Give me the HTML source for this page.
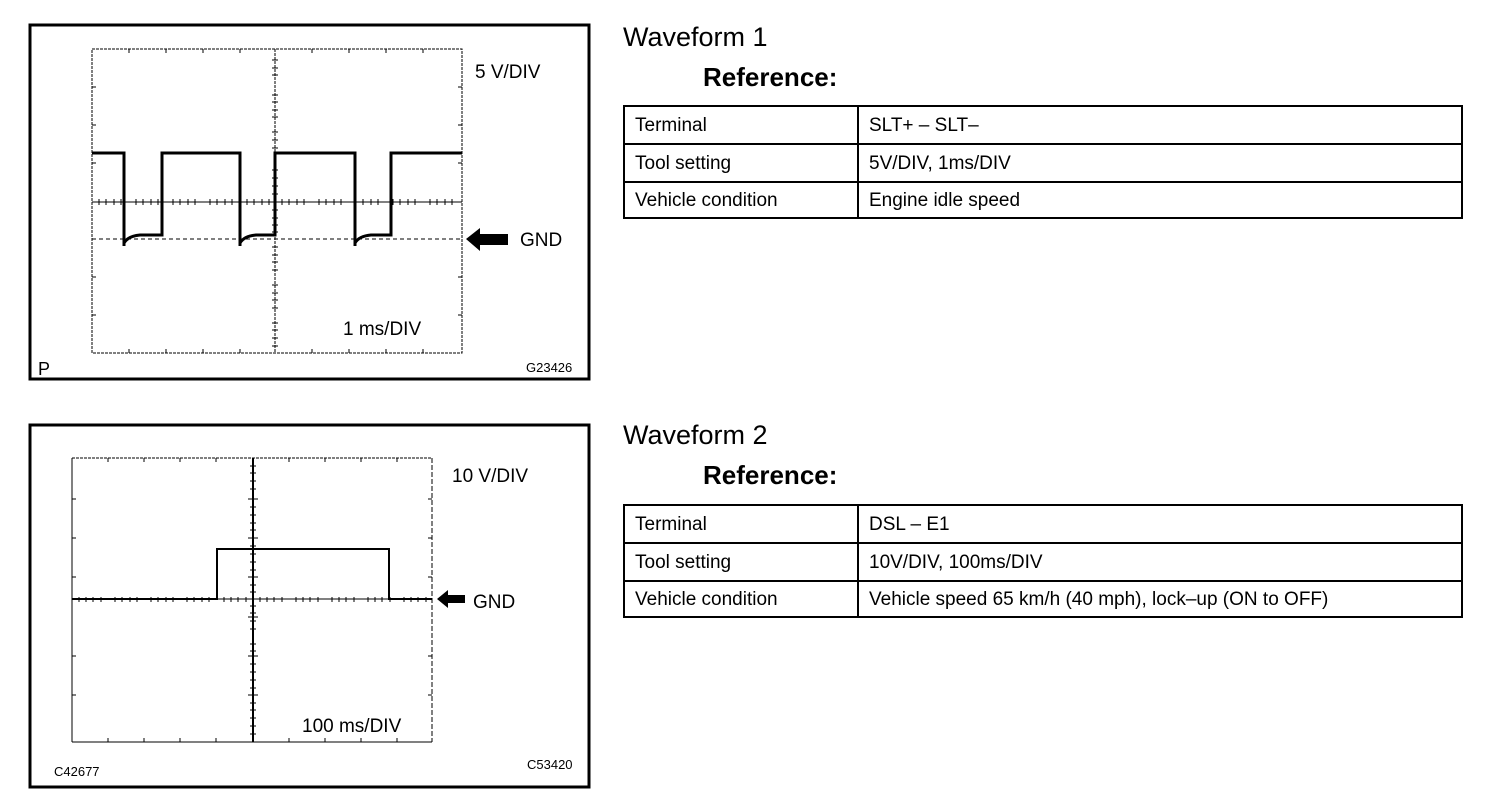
<!DOCTYPE html>
<html><head><meta charset="utf-8"><style>
html,body{margin:0;padding:0;background:#fff;}
body{width:1504px;height:808px;overflow:hidden;position:relative;font-family:"Liberation Sans",Arial,sans-serif;color:#000;}
.t{position:absolute;white-space:nowrap;}
table{position:absolute;border-collapse:collapse;font-size:19px;}
td{border:2px solid #000;height:35px;padding:2px 0 0 10px;vertical-align:middle;box-sizing:border-box;}
</style></head><body>
<svg width="1504" height="808" style="position:absolute;left:0;top:0" font-family="Liberation Sans, Arial, sans-serif">
<!-- Panel 1 -->
<rect x="30" y="25" width="559" height="354" fill="none" stroke="#000" stroke-width="3"/>
<g stroke="#000" stroke-width="1" fill="none">
<rect x="92" y="49" width="370" height="304" stroke-dasharray="3,1"/>
<line x1="275" y1="49" x2="275" y2="353" stroke-dasharray="3,1"/>
<line x1="92" y1="202" x2="462" y2="202"/>
<line x1="92" y1="239" x2="462" y2="239" stroke-dasharray="4,3"/>
</g>
<g stroke="#000" stroke-width="1">
<path d="M129 49v4M166 49v4M203 49v4M240 49v4M312 49v4M349 49v4M386 49v4M423 49v4M129 353v-4M166 353v-4M203 353v-4M240 353v-4M312 353v-4M349 353v-4M386 353v-4M423 353v-4"/>
<path d="M92 87h4M92 125h4M92 163h4M92 277h4M92 315h4M462 87h-4M462 125h-4M462 163h-4M462 277h-4M462 315h-4"/>
<path d="M99 199v6M106 199v6M114 199v6M121 199v6M136 199v6M143 199v6M151 199v6M158 199v6M173 199v6M180 199v6M188 199v6M195 199v6M210 199v6M217 199v6M225 199v6M232 199v6M247 199v6M254 199v6M262 199v6M269 199v6M282 199v6M289 199v6M297 199v6M304 199v6M319 199v6M326 199v6M334 199v6M341 199v6M356 199v6M363 199v6M371 199v6M378 199v6M393 199v6M400 199v6M408 199v6M415 199v6M430 199v6M437 199v6M445 199v6M452 199v6"/>
<path d="M272 60h6M272 68h6M272 75h6M272 95h6M272 102h6M272 110h6M272 117h6M272 132h6M272 140h6M272 148h6M272 170h6M272 178h6M272 186h6M272 194h6M272 210h6M272 218h6M272 225h6M272 232h6M272 247h6M272 255h6M272 262h6M272 270h6M272 285h6M272 293h6M272 300h6M272 308h6M272 323h6M272 330h6M272 338h6M272 346h6"/>
</g>
<g stroke="#000" stroke-width="3" fill="none">
<path d="M92 153H124V246"/>
<path d="M124 243Q128 236 140 235H162V153H240V246"/>
<path d="M240 243Q244 236 256 235H275V153H355V246"/>
<path d="M355 243Q359 236 371 235H391V153H462"/>
</g>
<polygon points="466,239 480,228 480,234 508,234 508,245 480,245 480,251" fill="#000"/>
<text x="475" y="78" font-size="19">5 V/DIV</text>
<text x="520" y="246" font-size="19">GND</text>
<text x="343" y="335" font-size="19">1 ms/DIV</text>
<text x="38" y="375" font-size="18">P</text>
<text x="526" y="372" font-size="13">G23426</text>

<!-- Panel 2 -->
<rect x="30" y="425" width="559" height="362" fill="none" stroke="#000" stroke-width="3"/>
<g stroke="#000" stroke-width="1" fill="none">
<line x1="72" y1="458" x2="432" y2="458" stroke-dasharray="3,1"/>
<line x1="72" y1="458" x2="72" y2="742"/>
<line x1="72" y1="742" x2="432" y2="742"/>
<line x1="432" y1="458" x2="432" y2="742" stroke-dasharray="5,2"/>
<line x1="253" y1="458" x2="253" y2="742" stroke-width="2"/>
<line x1="217" y1="599" x2="389" y2="599"/>
</g>
<g stroke="#000" stroke-width="1">
<path d="M108 458v4M144 458v4M180 458v4M216 458v4M289 458v4M325 458v4M361 458v4M397 458v4M108 742v-4M144 742v-4M180 742v-4M216 742v-4M289 742v-4M325 742v-4M361 742v-4M397 742v-4"/>
<path d="M72 499h4M72 538h4M72 577h4M72 656h4M72 695h4M432 499h-4M432 538h-4M432 577h-4M432 656h-4M432 695h-4"/>
<path d="M79 597v5M86 597v5M93 597v5M101 597v5M115 597v5M122 597v5M130 597v5M137 597v5M151 597v5M158 597v5M166 597v5M173 597v5M187 597v5M194 597v5M202 597v5M209 597v5M224 597v5M231 597v5M238 597v5M246 597v5M260 597v5M267 597v5M274 597v5M282 597v5M296 597v5M303 597v5M310 597v5M318 597v5M332 597v5M339 597v5M346 597v5M354 597v5M368 597v5M375 597v5M382 597v5M390 597v5M404 597v5M411 597v5M418 597v5M426 597v5"/>
<path d="M250 466h6M250 473h6M250 481h6M250 489h6M250 507h6M250 515h6M250 523h6M250 530h6M250 546h6M250 554h6M250 562h6M250 570h6M250 585h6M250 592h6M250 606h6M250 613h6M250 621h6M250 629h6M250 644h6M250 651h6M250 664h6M250 672h6M250 680h6M250 688h6M250 703h6M250 710h6M250 718h6M250 726h6M250 734h6"/>
<path d="M248 499h10M248 538h10M248 656h10M248 695h10M248 577h10M248 617h10"/>
</g>
<g stroke="#000" stroke-width="2" fill="none">
<path d="M72 599H217V549H389V599H432"/>
</g>
<polygon points="437,599 448,590 448,595 465,595 465,603 448,603 448,608" fill="#000"/>
<text x="452" y="482" font-size="19">10 V/DIV</text>
<text x="473" y="608" font-size="19">GND</text>
<text x="302" y="732" font-size="19">100 ms/DIV</text>
<text x="54" y="776" font-size="13">C42677</text>
<text x="527" y="769" font-size="13">C53420</text>
</svg>

<div class="t" style="left:623px;top:22px;font-size:27px;">Waveform 1</div>
<div class="t" style="left:703px;top:62px;font-size:26px;font-weight:bold;">Reference:</div>
<table style="left:623px;top:105px;width:840px;">
<tr><td style="width:234px;height:38px">Terminal</td><td>SLT+ – SLT–</td></tr>
<tr><td style="height:38px">Tool setting</td><td>5V/DIV, 1ms/DIV</td></tr>
<tr><td style="height:36px">Vehicle condition</td><td>Engine idle speed</td></tr>
</table>

<div class="t" style="left:623px;top:420px;font-size:27px;">Waveform 2</div>
<div class="t" style="left:703px;top:460px;font-size:26px;font-weight:bold;">Reference:</div>
<table style="left:623px;top:504px;width:840px;">
<tr><td style="width:234px;height:38px">Terminal</td><td>DSL – E1</td></tr>
<tr><td style="height:38px">Tool setting</td><td>10V/DIV, 100ms/DIV</td></tr>
<tr><td style="height:36px">Vehicle condition</td><td>Vehicle speed 65 km/h (40 mph), lock–up (ON to OFF)</td></tr>
</table>
</body></html>
